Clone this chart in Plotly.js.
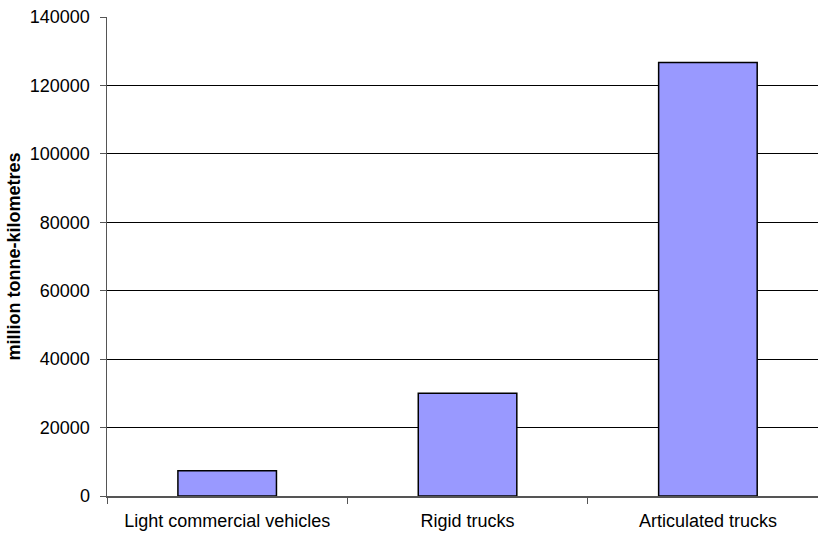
<!DOCTYPE html>
<html>
<head>
<meta charset="utf-8">
<script src="https://cdn.plot.ly/plotly-3.0.1.min.js"></script>
<style>html,body{margin:0;padding:0;background:#fff;}#chart{width:818px;height:533px;}</style>
</head>
<body>
<div id="chart"></div>
<script>
const categories = ["Light commercial vehicles", "Rigid trucks", "Articulated trucks"];
const values = [7400, 30000, 126700];
const yTicks = [0, 20000, 40000, 60000, 80000, 100000, 120000, 140000];
const yTitle = "million tonne-kilometres";

const font = "Liberation Sans, Arial, sans-serif";
Plotly.newPlot("chart", [{
  type: "bar",
  x: categories,
  y: values,
  width: 0.41,
  marker: {color: "#9999ff", line: {color: "#000000", width: 1.5}},
  hoverinfo: "x+y"
}], {
  width: 818, height: 533,
  margin: {l: 107, r: 0, t: 17, b: 37, pad: 0},
  paper_bgcolor: "#ffffff",
  plot_bgcolor: "#ffffff",
  showlegend: false,
  font: {family: font, size: 18, color: "#000000"},
  xaxis: {
    type: "category",
    range: [-0.5, 2.458],
    tickson: "boundaries",
    ticks: "outside", ticklen: 6, tickcolor: "#555555", tickwidth: 1,
    ticklabelstandoff: 8,
    showline: true, linecolor: "#555555", linewidth: 1.5,
    showgrid: false, zeroline: false,
    tickfont: {family: font, size: 18, color: "#000000"}
  },
  yaxis: {
    range: [0, 140000],
    tickvals: yTicks,
    ticktext: yTicks.map(String),
    ticks: "outside", ticklen: 6, tickcolor: "#555555", tickwidth: 1,
    ticklabelstandoff: 6,
    showline: true, linecolor: "#555555", linewidth: 1.5,
    showgrid: true, gridcolor: "#000000", gridwidth: 1,
    zeroline: false,
    tickfont: {family: font, size: 18, color: "#000000"},
    title: {text: "<b>" + yTitle + "</b>", font: {family: font, size: 18, color: "#000000"}, standoff: 4}
  }
}, {displayModeBar: false, staticPlot: true});
</script>
</body>
</html>
